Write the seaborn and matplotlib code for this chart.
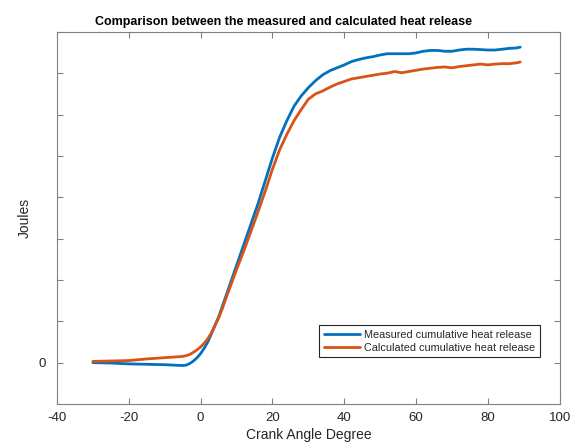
import numpy as np
import pandas as pd
import matplotlib
matplotlib.use("Agg")
import matplotlib.pyplot as plt
import seaborn as sns

crank = [-30, -25, -20, -15, -10, -5, -4, -3, -2, -1, 0, 1, 2, 3, 4, 5, 6, 8, 10, 12, 14, 16, 18,
         20, 22, 24, 26, 28, 30, 32, 34, 36, 38, 40, 42, 44, 46, 48, 50, 52, 54, 56, 58, 60,
         62, 64, 66, 68, 70, 72, 74, 76, 78, 80, 82, 84, 86, 88, 89]
measured = [0.0, -1, -3, -4, -5, -7, -6, -2, 4, 12, 22, 35, 50, 70, 90, 110, 135, 185, 235, 285, 335,
            385, 440, 495, 545, 585, 620, 645, 665, 682, 696, 706, 713, 720, 728, 733, 737, 740,
            744, 747, 747, 747, 747, 749, 753, 755, 755, 753, 753, 756, 758, 758, 757, 756, 756,
            758, 760, 761, 763]
calculated = [3, 4, 5, 9, 12, 15, 17, 20, 25, 31, 38, 47, 58, 72, 90, 108, 130, 178, 225, 270, 317,
              365, 415, 468, 515, 552, 585, 612, 637, 650, 657, 666, 674, 680, 686, 689, 692, 695,
              698, 700, 704, 701, 704, 707, 710, 712, 714, 715, 713, 716, 718, 720, 722, 720, 722,
              723, 723, 725, 727]

labels = ["Measured cumulative heat release", "Calculated cumulative heat release"]

df = pd.concat([
    pd.DataFrame({"Crank Angle Degree": crank, "Joules": measured, "series": labels[0]}),
    pd.DataFrame({"Crank Angle Degree": crank, "Joules": calculated, "series": labels[1]}),
])

sns.set_style("white")
plt.rcParams["font.family"] = ["Liberation Sans", "DejaVu Sans"]
plt.rcParams["axes.unicode_minus"] = False

fig = plt.figure(figsize=(5.7, 4.42), dpi=100)
ax = fig.add_axes([0.1, 0.086, 0.882, 0.842])

sns.lineplot(data=df, x="Crank Angle Degree", y="Joules", hue="series",
             palette=["#0072BD", "#D95319"], linewidth=2.0, ax=ax, sort=False)

ax.set_xlim(-40, 100)
ax.set_ylim(-100, 800)
ax.set_xticks(np.arange(-40, 101, 20))
yt = np.arange(0, 801, 100)
ax.set_yticks(yt)
ax.set_yticklabels(["0"] + [""] * (len(yt) - 1))

for s in ax.spines.values():
    s.set_color("#808080")
    s.set_linewidth(0.8)
ax.tick_params(direction="in", top=True, right=True, left=True, bottom=True,
               length=4, width=0.8, color="#808080", labelsize=9.5,
               labelcolor="#262626")
ax.tick_params(axis="y", pad=8)
ax.tick_params(axis="x", pad=6)

ax.set_title("Comparison between the measured and calculated heat release",
             fontsize=9, fontweight="bold", color="#000000", pad=5, x=0.45)
ax.set_xlabel("Crank Angle Degree", fontsize=10, color="#262626", labelpad=3)
ax.set_ylabel("Joules", fontsize=10, color="#262626", labelpad=5)

leg = ax.legend(loc="lower right", bbox_to_anchor=(0.96, 0.126), fontsize=7.8,
                frameon=True, fancybox=False, framealpha=1, edgecolor="#262626",
                handlelength=3.4, handletextpad=0.35, borderpad=0.4, labelspacing=0.3,
                borderaxespad=0)
leg.get_frame().set_linewidth(0.8)

fig.savefig("out.png", dpi=100)
